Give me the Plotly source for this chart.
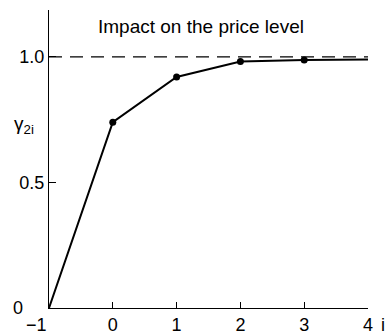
import plotly.graph_objects as go

# Data
lags = [-1, 0, 1, 2, 3, 4]
gamma = [0.0, 0.74, 0.92, 0.982, 0.988, 0.99]
marker_lags = [0, 1, 2, 3]
marker_gamma = [0.74, 0.92, 0.982, 0.988]
ref_level = 1.0
x_ticks = [0, 1, 2, 3, 4]
y_ticks = [0.5, 1.0]
y_tick_text = ["0.5", "1.0"]

FONT = "Liberation Sans, Arial, sans-serif"

fig = go.Figure()
fig.add_trace(go.Scatter(x=[-1, 4], y=[ref_level, ref_level], mode="lines",
                         line=dict(color="black", width=1.2, dash="13px,8px"),
                         hoverinfo="skip", showlegend=False))
fig.add_trace(go.Scatter(x=lags, y=gamma, mode="lines",
                         line=dict(color="black", width=2),
                         showlegend=False))
fig.add_trace(go.Scatter(x=marker_lags, y=marker_gamma, mode="markers",
                         marker=dict(color="black", size=7),
                         showlegend=False))

fig.update_layout(
    template="none",
    width=388, height=334,
    margin=dict(l=49, r=20, t=10, b=26),
    paper_bgcolor="white", plot_bgcolor="white",
    font=dict(family=FONT, size=18, color="black"),
    xaxis=dict(range=[-1, 4], showgrid=False, zeroline=False, automargin=False,
               showline=True, linecolor="black", linewidth=1.3,
               ticks="inside", ticklen=6, tickcolor="black", tickwidth=1,
               tickvals=x_ticks, ticktext=[str(v) for v in x_ticks],
               tickfont=dict(size=18)),
    yaxis=dict(range=[0, 1.187], showgrid=False, zeroline=False, automargin=False,
               showline=True, linecolor="black", linewidth=1.2,
               ticks="inside", ticklen=7, tickcolor="black", tickwidth=1.2,
               tickvals=y_ticks, ticktext=y_tick_text,
               tickfont=dict(size=18)),
    annotations=[
        dict(x=1.38, y=1.12, xref="x", yref="y", text="Impact on the price level",
             showarrow=False, font=dict(size=19)),
        dict(x=-1, y=0, xref="x", yref="y", text="0", showarrow=False,
             xanchor="right", xshift=-24, yshift=0, font=dict(size=18)),
        dict(x=-1, y=0, xref="x", yref="y", text="\u22121", showarrow=False,
             xanchor="right", yanchor="top", xshift=0, yshift=-5, font=dict(size=18)),
        dict(x=4, y=0, xref="x", yref="y", text="i", showarrow=False,
             xanchor="left", yanchor="top", xshift=11, yshift=-5, font=dict(size=18)),
        dict(x=-1, y=0.73, xref="x", yref="y", text="\u03b3<sub>2i</sub>", showarrow=False,
             xanchor="right", xshift=-13, font=dict(size=19)),
    ],
)

fig.write_html("out.html")
